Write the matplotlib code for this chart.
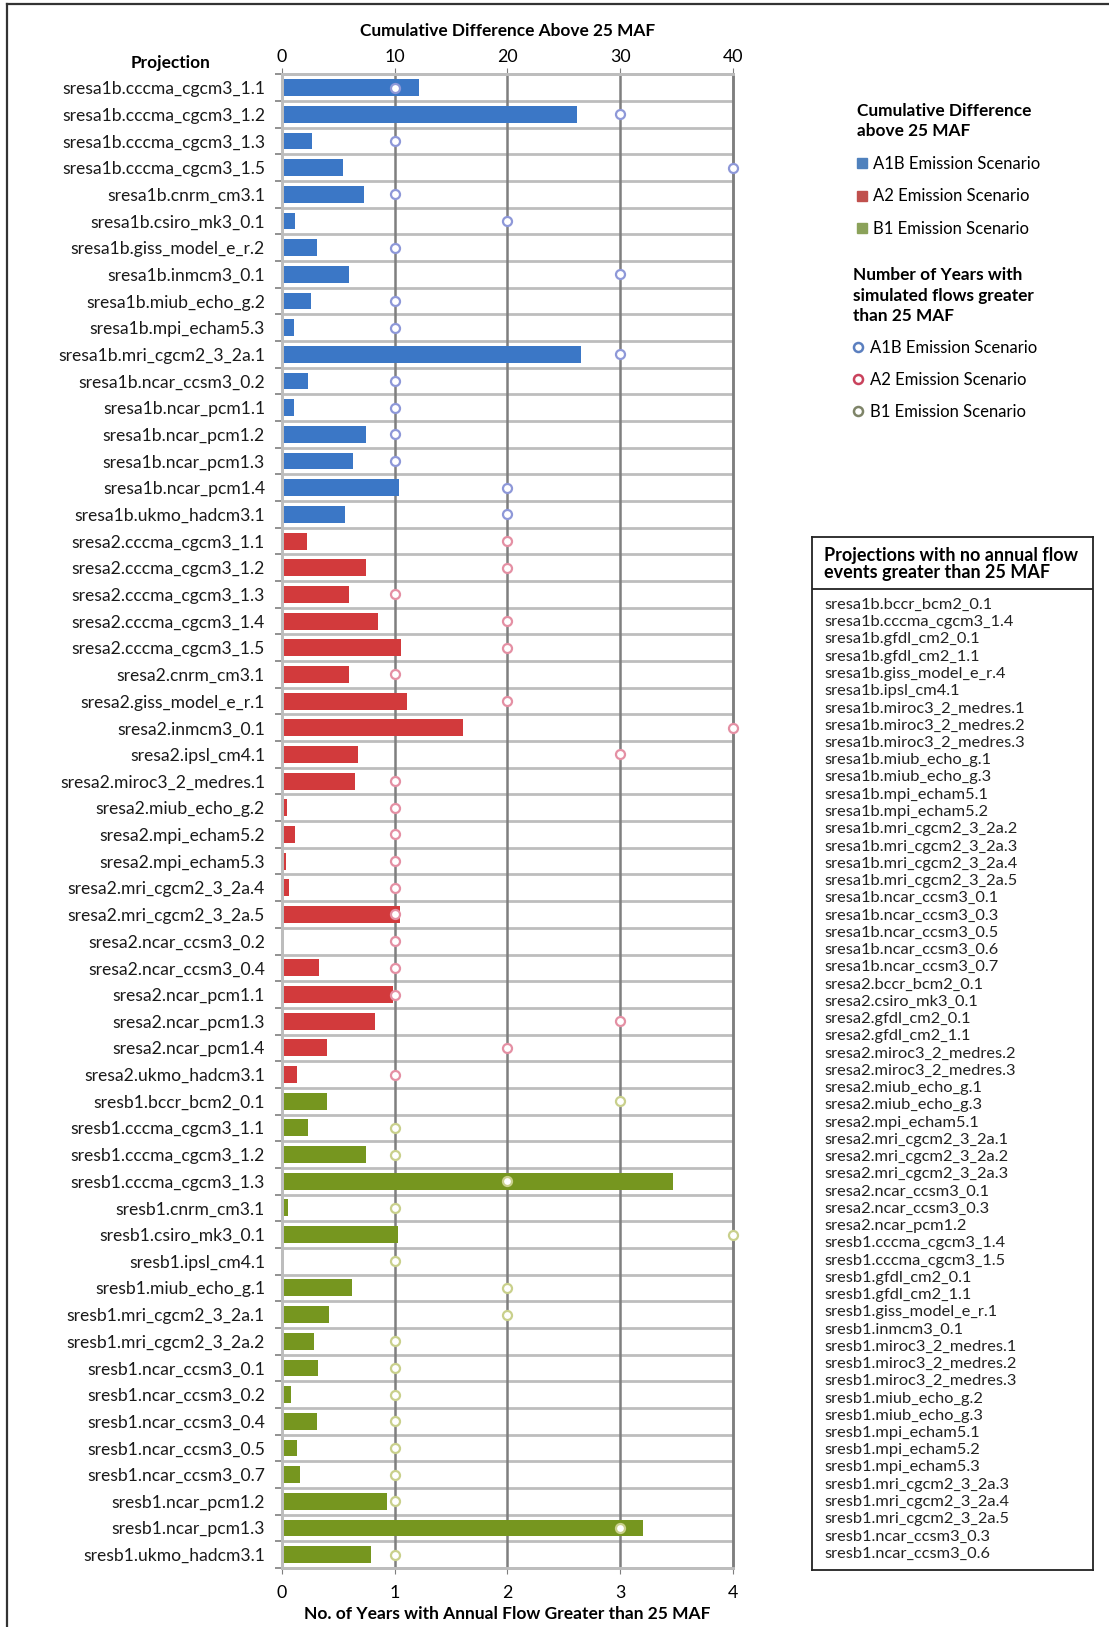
import matplotlib
matplotlib.use("Agg")
import matplotlib.pyplot as plt
from matplotlib.lines import Line2D
import numpy as np

plt.rcParams['font.family'] = ['Lato', 'DejaVu Sans']

# projections shown in the chart (top to bottom)
a1b_names = ['sresa1b.cccma_cgcm3_1.1', 'sresa1b.cccma_cgcm3_1.2', 'sresa1b.cccma_cgcm3_1.3',
             'sresa1b.cccma_cgcm3_1.5', 'sresa1b.cnrm_cm3.1', 'sresa1b.csiro_mk3_0.1',
             'sresa1b.giss_model_e_r.2', 'sresa1b.inmcm3_0.1', 'sresa1b.miub_echo_g.2',
             'sresa1b.mpi_echam5.3', 'sresa1b.mri_cgcm2_3_2a.1', 'sresa1b.ncar_ccsm3_0.2',
             'sresa1b.ncar_pcm1.1', 'sresa1b.ncar_pcm1.2', 'sresa1b.ncar_pcm1.3',
             'sresa1b.ncar_pcm1.4', 'sresa1b.ukmo_hadcm3.1']
a1b_diff = [12.2, 26.2, 2.7, 5.4, 7.3, 1.2, 3.1, 6.0, 2.6, 1.1, 26.5, 2.3,
            1.1, 7.5, 6.3, 10.4, 5.6]
a1b_years = [1, 3, 1, 4, 1, 2, 1, 3, 1, 1, 3, 1, 1, 1, 1, 2, 2]

a2_names = ['sresa2.cccma_cgcm3_1.1', 'sresa2.cccma_cgcm3_1.2', 'sresa2.cccma_cgcm3_1.3',
            'sresa2.cccma_cgcm3_1.4', 'sresa2.cccma_cgcm3_1.5', 'sresa2.cnrm_cm3.1',
            'sresa2.giss_model_e_r.1', 'sresa2.inmcm3_0.1', 'sresa2.ipsl_cm4.1',
            'sresa2.miroc3_2_medres.1', 'sresa2.miub_echo_g.2', 'sresa2.mpi_echam5.2',
            'sresa2.mpi_echam5.3', 'sresa2.mri_cgcm2_3_2a.4', 'sresa2.mri_cgcm2_3_2a.5',
            'sresa2.ncar_ccsm3_0.2', 'sresa2.ncar_ccsm3_0.4', 'sresa2.ncar_pcm1.1',
            'sresa2.ncar_pcm1.3', 'sresa2.ncar_pcm1.4', 'sresa2.ukmo_hadcm3.1']
a2_diff = [2.2, 7.5, 6.0, 8.5, 10.6, 6.0, 11.1, 16.1, 6.8, 6.5, 0.5, 1.15,
           0.35, 0.65, 10.5, 0.15, 3.3, 9.9, 8.3, 4.0, 1.4]
a2_years = [2, 2, 1, 2, 2, 1, 2, 4, 3, 1, 1, 1, 1, 1, 1, 1, 1, 1, 3, 2, 1]

b1_names = ['sresb1.bccr_bcm2_0.1', 'sresb1.cccma_cgcm3_1.1', 'sresb1.cccma_cgcm3_1.2',
            'sresb1.cccma_cgcm3_1.3', 'sresb1.cnrm_cm3.1', 'sresb1.csiro_mk3_0.1',
            'sresb1.ipsl_cm4.1', 'sresb1.miub_echo_g.1', 'sresb1.mri_cgcm2_3_2a.1',
            'sresb1.mri_cgcm2_3_2a.2', 'sresb1.ncar_ccsm3_0.1', 'sresb1.ncar_ccsm3_0.2',
            'sresb1.ncar_ccsm3_0.4', 'sresb1.ncar_ccsm3_0.5', 'sresb1.ncar_ccsm3_0.7',
            'sresb1.ncar_pcm1.2', 'sresb1.ncar_pcm1.3', 'sresb1.ukmo_hadcm3.1']
b1_diff = [4.0, 2.3, 7.5, 34.7, 0.6, 10.3, 0.15, 6.2, 4.2, 2.9, 3.2, 0.8,
           3.15, 1.35, 1.65, 9.3, 32.0, 7.9]
b1_years = [3, 1, 1, 2, 1, 4, 1, 2, 2, 1, 1, 1, 1, 1, 1, 1, 3, 1]

# projections with no event above 25 MAF
no_events = ['sresa1b.bccr_bcm2_0.1', 'sresa1b.cccma_cgcm3_1.4', 'sresa1b.gfdl_cm2_0.1',
             'sresa1b.gfdl_cm2_1.1', 'sresa1b.giss_model_e_r.4', 'sresa1b.ipsl_cm4.1',
             'sresa1b.miroc3_2_medres.1', 'sresa1b.miroc3_2_medres.2', 'sresa1b.miroc3_2_medres.3',
             'sresa1b.miub_echo_g.1', 'sresa1b.miub_echo_g.3', 'sresa1b.mpi_echam5.1',
             'sresa1b.mpi_echam5.2', 'sresa1b.mri_cgcm2_3_2a.2', 'sresa1b.mri_cgcm2_3_2a.3',
             'sresa1b.mri_cgcm2_3_2a.4', 'sresa1b.mri_cgcm2_3_2a.5', 'sresa1b.ncar_ccsm3_0.1',
             'sresa1b.ncar_ccsm3_0.3', 'sresa1b.ncar_ccsm3_0.5', 'sresa1b.ncar_ccsm3_0.6',
             'sresa1b.ncar_ccsm3_0.7', 'sresa2.bccr_bcm2_0.1', 'sresa2.csiro_mk3_0.1',
             'sresa2.gfdl_cm2_0.1', 'sresa2.gfdl_cm2_1.1', 'sresa2.miroc3_2_medres.2',
             'sresa2.miroc3_2_medres.3', 'sresa2.miub_echo_g.1', 'sresa2.miub_echo_g.3',
             'sresa2.mpi_echam5.1', 'sresa2.mri_cgcm2_3_2a.1', 'sresa2.mri_cgcm2_3_2a.2',
             'sresa2.mri_cgcm2_3_2a.3', 'sresa2.ncar_ccsm3_0.1', 'sresa2.ncar_ccsm3_0.3',
             'sresa2.ncar_pcm1.2', 'sresb1.cccma_cgcm3_1.4', 'sresb1.cccma_cgcm3_1.5',
             'sresb1.gfdl_cm2_0.1', 'sresb1.gfdl_cm2_1.1', 'sresb1.giss_model_e_r.1',
             'sresb1.inmcm3_0.1', 'sresb1.miroc3_2_medres.1', 'sresb1.miroc3_2_medres.2',
             'sresb1.miroc3_2_medres.3', 'sresb1.miub_echo_g.2', 'sresb1.miub_echo_g.3',
             'sresb1.mpi_echam5.1', 'sresb1.mpi_echam5.2', 'sresb1.mpi_echam5.3',
             'sresb1.mri_cgcm2_3_2a.3', 'sresb1.mri_cgcm2_3_2a.4', 'sresb1.mri_cgcm2_3_2a.5',
             'sresb1.ncar_ccsm3_0.3', 'sresb1.ncar_ccsm3_0.6']

bar_cols = {'A1B': '#3B77C6', 'A2': '#D23A3C', 'B1': '#76961F'}
mk_cols = {'A1B': '#8E98D8', 'A2': '#E490A4', 'B1': '#C9D08C'}
leg_sq = {'A1B': '#4F81BD', 'A2': '#C0504D', 'B1': '#8BA25A'}
leg_mk = {'A1B': '#5B7FBF', 'A2': '#C9425C', 'B1': '#7E8468'}

groups = [('A1B', a1b_names, a1b_diff, a1b_years),
          ('A2', a2_names, a2_diff, a2_years),
          ('B1', b1_names, b1_diff, b1_years)]

names = a1b_names + a2_names + b1_names
n = len(names)
ypos = np.arange(n)

fig = plt.figure(figsize=(11.09, 16.27), dpi=100)
ax = fig.add_axes([0.254, 0.0363, 0.407, 0.918])
ax2 = ax.twiny()

grid_c = '#BDBDBD'
dark_c = '#7F7F7F'

# row separators and vertical grid
for b in np.arange(n + 1) - 0.5:
    ax.axhline(b, color=grid_c, lw=2, zorder=0)
for v in [10, 20, 30]:
    ax.axvline(v, color=dark_c, lw=1.8, zorder=0.5)

start = 0
for key, nm, diff, yrs in groups:
    idx = ypos[start:start + len(nm)]
    ax.barh(idx, diff, height=0.63, color=bar_cols[key], zorder=2)
    ax2.plot(yrs, idx, 'o', ms=6.5, mfc='white', mec=mk_cols[key], mew=1.6,
             zorder=3, clip_on=False)
    start += len(nm)

ax.set_xlim(0, 40)
ax2.set_xlim(0, 4)
ax.set_ylim(n - 0.5, -0.5)

ax.set_yticks(ypos)
ax.set_yticklabels(names, fontsize=12.6, color='#1a1a1a')
ax.set_yticks(np.arange(n + 1) - 0.5, minor=True)
ax.tick_params(axis='y', which='major', length=0, pad=12)
ax.tick_params(axis='y', which='minor', length=5, color=dark_c, width=1.2)

ax.xaxis.tick_top()
ax.xaxis.set_label_position('top')
ax.set_xticks([0, 10, 20, 30, 40])
ax.tick_params(axis='x', labelsize=12.8, length=4, color=dark_c, pad=3)
ax.set_xlabel('Cumulative Difference Above 25 MAF', fontsize=12.4, fontweight='bold',
              labelpad=9)

ax2.xaxis.tick_bottom()
ax2.xaxis.set_label_position('bottom')
ax2.set_xticks([0, 1, 2, 3, 4])
ax2.tick_params(axis='x', labelsize=12.8, length=4, color=dark_c, pad=8)
ax2.set_xlabel('No. of Years with Annual Flow Greater than 25 MAF', fontsize=12.5,
               fontweight='bold', labelpad=4)

for a in (ax, ax2):
    for s in ['top', 'bottom', 'left']:
        a.spines[s].set_color(grid_c)
        a.spines[s].set_linewidth(2)
    a.spines['right'].set_color(dark_c)
    a.spines['right'].set_linewidth(1.8)

fig.text(0.154, 0.961, 'Projection', fontsize=12.4, fontweight='bold', ha='center', va='center')

# legends on the right
h1 = [Line2D([], [], ls='none', marker='s', ms=7, mfc=leg_sq[k], mec=leg_sq[k])
      for k in ['A1B', 'A2', 'B1']]
h2 = [Line2D([], [], ls='none', marker='o', ms=6.5, mfc='white', mec=leg_mk[k], mew=1.8)
      for k in ['A1B', 'A2', 'B1']]
lab = ['A1B Emission Scenario', 'A2 Emission Scenario', 'B1 Emission Scenario']
kw = dict(frameon=False, loc='upper left', fontsize=12, handlelength=0.6,
          handletextpad=0.4, labelspacing=0.98, alignment='left',
          title_fontproperties={'weight': 'bold', 'size': 12.4})
lg1 = fig.legend(h1, lab, title='Cumulative Difference\nabove 25 MAF',
                 bbox_to_anchor=(0.759, 0.946), **kw)
lg1._legend_box.sep = 12
lg2 = fig.legend(h2, lab, title='Number of Years with\nsimulated flows greater\nthan 25 MAF',
                 bbox_to_anchor=(0.756, 0.845), **kw)
lg2._legend_box.sep = 11
for lg in (lg1, lg2):
    lg.get_title().set_linespacing(1.35)

# box listing projections without events
bx = fig.add_axes([0.732, 1 - 1570 / 1627, 0.254, (1570 - 537) / 1627])
bx.set_xticks([])
bx.set_yticks([])
for s in bx.spines.values():
    s.set_color('#222222')
    s.set_linewidth(1.3)
bx.set_xlim(0, 1)
bx.set_ylim(1570, 537)
bx.axhline(589, color='#222222', lw=1.3)
bx.text(0.045, 564, 'Projections with no annual flow\nevents greater than 25 MAF',
        fontsize=13.0, fontweight='bold', va='center', ha='left', linespacing=0.95)
list_y = 605 + np.arange(len(no_events)) * 17.25
for yy, t in zip(list_y, no_events):
    bx.text(0.045, yy, t, fontsize=11.8, va='center', ha='left', color='#222222')

# outer frame: top and left edges only
fig.add_artist(Line2D([0.0065, 1.0], [0.9975, 0.9975], transform=fig.transFigure,
                      color='#333333', lw=1.6))
fig.add_artist(Line2D([0.0065, 0.0065], [0.0, 0.9975], transform=fig.transFigure,
                      color='#333333', lw=1.6))

fig.savefig('out.png', dpi=100)
